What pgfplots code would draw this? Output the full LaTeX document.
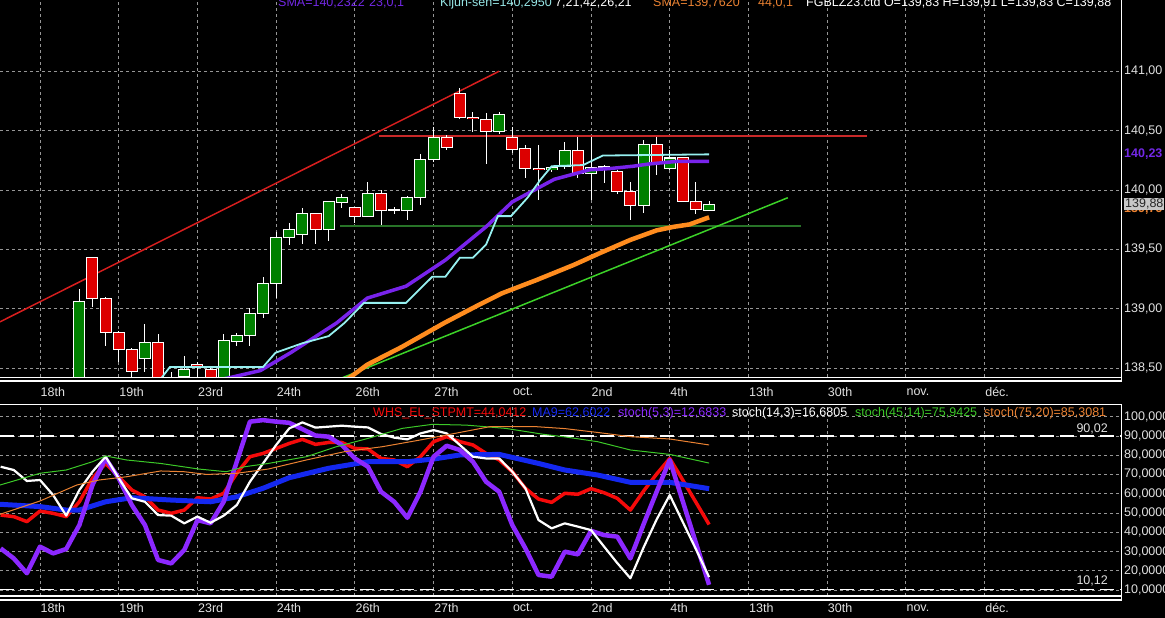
\documentclass[border=0pt]{standalone}
\usepackage{fontspec}
\setmainfont{Liberation Sans}
\usepackage{pgfplots}
\usepackage{pgfplotstable}
\pgfplotsset{compat=1.18}

\definecolor{cgreen}{RGB}{0,128,0}
\definecolor{cred}{RGB}{220,0,0}
\definecolor{gridc}{RGB}{150,150,150}
\definecolor{trendred}{RGB}{215,30,30}
\definecolor{hred}{RGB}{200,40,40}
\definecolor{dkgreen}{RGB}{40,115,40}
\definecolor{brgreen}{RGB}{60,210,40}
\definecolor{orangeL}{RGB}{255,140,30}
\definecolor{purpleL}{RGB}{120,35,235}
\definecolor{cyanL}{RGB}{150,240,240}
\definecolor{blueL}{RGB}{20,40,240}
\definecolor{redL}{RGB}{245,10,10}
\definecolor{violetL}{RGB}{140,40,255}
\definecolor{greenL}{RGB}{60,200,40}
\definecolor{orangeT}{RGB}{235,130,50}
\definecolor{labgrey}{RGB}{225,225,225}
\definecolor{purpT}{RGB}{115,40,230}
\definecolor{cyanT}{RGB}{150,230,230}
\definecolor{boxgrey}{RGB}{200,200,200}

% candles: x open high low close
\pgfplotstableread{
x O H L C
3 138.20 139.17 138.10 139.06
8 138.58 138.87 138.47 138.72
11 138.43 138.60 138.40 138.49
14 138.40 138.79 138.38 138.73
15 138.73 138.80 138.69 138.78
16 138.78 139.01 138.69 138.96
17 138.96 139.27 138.92 139.21
18 139.21 139.65 139.09 139.60
19 139.60 139.72 139.54 139.67
20 139.63 139.85 139.55 139.80
22 139.67 139.91 139.57 139.90
23 139.90 139.97 139.85 139.94
25 139.78 140.07 139.77 139.97
27 139.83 139.86 139.80 139.835
28 139.83 139.95 139.75 139.94
29 139.94 140.30 139.87 140.26
30 140.26 140.53 140.24 140.44
35 140.49 140.66 140.47 140.64
39 140.17 140.20 140.15 140.19
40 140.20 140.40 140.18 140.33
42 140.14 140.45 139.92 140.19
46 139.87 140.42 139.81 140.385
48 140.18 140.34 140.17 140.27
51 139.83 139.91 139.83 139.88
}\greenc

\pgfplotstableread{
x O H L C
4 139.43 139.44 139.02 139.09
5 139.09 139.10 138.69 138.80
6 138.80 138.81 138.55 138.66
7 138.66 138.67 138.43 138.47
9 138.72 138.79 138.30 138.38
10 138.40 138.47 138.25 138.30
12 138.53 138.55 138.38 138.51
13 138.49 138.50 138.38 138.40
21 139.80 139.81 139.55 139.67
24 139.85 139.86 139.72 139.78
26 139.97 140.00 139.71 139.83
31 140.44 140.46 140.34 140.36
32 140.81 140.86 140.60 140.61
33 140.61 140.66 140.49 140.60
34 140.59 140.65 140.22 140.49
36 140.44 140.53 140.31 140.34
37 140.35 140.38 140.10 140.18
38 140.18 140.38 139.92 140.17
41 140.33 140.45 140.10 140.14
43 140.20 140.21 140.06 140.195
44 140.16 140.17 139.97 139.99
45 139.99 140.07 139.75 139.87
47 140.385 140.45 140.13 140.23
49 140.27 140.28 139.90 139.90
50 139.90 140.07 139.80 139.84
}\redc

% oscillators: x stoch(5,3) WHS stoch(14,3)
\pgfplotstableread{
x P R W
-3 31.6 48.9 74.0
-2 26.4 48.1 72.3
-1 18.7 45.5 66.6
0 32.5 51.0 67.1
1 29.0 49.8 59.3
2 31.3 48.1 48.6
3 43.7 55.8 61.9
4 64.5 68.0 71.4
5 78.3 75.7 79.2
6 68.0 68.8 68.0
7 54.1 61.9 57.6
8 43.7 58.4 55.8
9 25.6 51.5 48.9
10 23.8 49.8 48.6
11 30.8 51.5 44.6
12 46.3 57.9 48.1
13 44.6 57.2 44.9
14 55.8 60.2 48.6
15 76.6 70.6 54.1
16 97.4 79.2 66.2
17 98.2 80.9 75.7
18 97.4 83.5 85.3
19 96.8 86.1 93.9
20 93.5 88.2 97.0
21 90.2 85.6 94.3
22 89.6 86.6 94.8
23 85.3 86.6 95.3
24 78.3 83.5 94.8
25 74.0 83.2 94.4
26 61.0 78.3 91.0
27 55.8 77.5 89.1
28 47.5 74.0 88.2
29 61.0 79.2 91.3
30 79.2 87.0 93.0
31 84.9 89.6 91.3
32 82.7 87.0 85.3
33 76.6 85.3 79.2
34 66.2 80.9 78.3
35 61.0 77.5 78.3
36 43.7 71.4 71.4
37 31.6 62.8 62.8
38 17.8 57.2 46.3
39 16.9 55.5 42.0
40 29.9 60.2 44.6
41 28.5 59.7 42.9
42 40.7 62.6 41.1
43 38.5 60.5 32.5
44 37.7 57.6 24.0
45 26.4 51.5 16.1
46 44.0 61.3 32.0
47 61.0 70.2 46.6
48 77.5 78.3 59.3
49 55.9 67.0 45.2
50 34.3 55.5 31.1
51 12.7 44.0 16.7
}\osc

\newcommand{\lbl}{\fontsize{12.5}{14}\selectfont}

\begin{document}
\begin{tikzpicture}[x=1pt,y=1pt]
\fill[black] (0,0) rectangle (1165,618);

% ---------------- price panel ----------------
\begin{axis}[
  at={(0pt,241pt)}, anchor=south west, scale only axis,
  width=1121pt, height=377pt,
  xmin=-3.049, xmax=82.393, ymin=138.4259, ymax=141.5993,
  axis line style={draw=none}, major tick length=0pt,
  xtick={0,6,...,72},
  xticklabels={18th,19th,23rd,24th,26th,27th,oct.,2nd,4th,13th,30th,nov.,déc.},
  ytick={138.5,139,139.5,140,140.5,141},
  yticklabels={{138,50},{139,00},{139,50},{140,00},{140,50},{141,00}},
  yticklabel pos=right,
  grid=major, grid style={gridc, dash pattern=on 3pt off 3pt, line width=0.8pt},
  tick label style={font=\lbl, text=labgrey},
  xticklabel style={anchor=west, inner sep=0.5pt, yshift=-15pt},
  yticklabel style={anchor=west, inner sep=0pt, xshift=3pt},
]
% trend and level lines
\addplot[trendred, line width=1.5pt] coordinates {(-3.05,138.89) (35,141.0)};
\addplot[hred, line width=2.4pt] coordinates {(25.85,140.455) (63,140.455)};
\addplot[dkgreen, line width=2pt] coordinates {(22.9,139.70) (58.0,139.70)};
\addplot[brgreen, line width=1.5pt] coordinates {(22.5,138.395) (57.0,139.935)};

% wicks
\addplot[draw=none, mark=none, error bars/.cd, y dir=both, y explicit, error mark=none,
  error bar style={draw=white, line width=1pt}]
  table[x=x, y expr={(\thisrow{H}+\thisrow{L})/2}, y error expr={(\thisrow{H}-\thisrow{L})/2}] {\greenc};
\addplot[draw=none, mark=none, error bars/.cd, y dir=both, y explicit, error mark=none,
  error bar style={draw=white, line width=1pt}]
  table[x=x, y expr={(\thisrow{H}+\thisrow{L})/2}, y error expr={(\thisrow{H}-\thisrow{L})/2}] {\redc};
% bodies: white outline then fill
\addplot[draw=none, mark=none, error bars/.cd, y dir=both, y explicit, error mark=none,
  error bar style={draw=white, line width=12pt}]
  table[x=x, y expr={(\thisrow{O}+\thisrow{C})/2}, y error expr={abs(\thisrow{C}-\thisrow{O})/2+0.0045}] {\greenc};
\addplot[draw=none, mark=none, error bars/.cd, y dir=both, y explicit, error mark=none,
  error bar style={draw=cgreen, line width=10pt}]
  table[x=x, y expr={(\thisrow{O}+\thisrow{C})/2}, y error expr={max(abs(\thisrow{C}-\thisrow{O})/2-0.0040,0)}] {\greenc};
\addplot[draw=none, mark=none, error bars/.cd, y dir=both, y explicit, error mark=none,
  error bar style={draw=white, line width=12pt}]
  table[x=x, y expr={(\thisrow{O}+\thisrow{C})/2}, y error expr={abs(\thisrow{C}-\thisrow{O})/2+0.0045}] {\redc};
\addplot[draw=none, mark=none, error bars/.cd, y dir=both, y explicit, error mark=none,
  error bar style={draw=cred, line width=10pt}]
  table[x=x, y expr={(\thisrow{O}+\thisrow{C})/2}, y error expr={max(abs(\thisrow{C}-\thisrow{O})/2-0.0040,0)}] {\redc};

% moving averages
\addplot[orangeL, line width=4.5pt, line join=round] coordinates {
(22.6,138.36) (23.6,138.42) (24.95,138.53) (27.6,138.68) (30.8,138.88) (33.4,139.03)
(35.2,139.13) (37.8,139.24) (40.7,139.37) (42.7,139.47) (45,139.58) (47,139.66)
(48.3,139.69) (49.5,139.71) (51,139.77)};
\addplot[purpleL, line width=3.5pt, line join=round] coordinates {
(13.5,138.40) (14.45,138.42) (16.8,138.48) (19.1,138.63) (22.6,138.88) (24.95,139.09)
(27.9,139.19) (30.9,139.41) (34.0,139.69) (36.0,139.90) (39.2,140.09) (41.9,140.17)
(43.4,140.18) (45.2,140.20) (46.5,140.22) (48.5,140.24) (51,140.24)};
\addplot[cyanL, line width=1.8pt] coordinates {
(9.0,138.39) (9.27,138.42) (9.9,138.51) (17.0,138.51) (17.95,138.63) (20,138.71)
(22,138.77) (23.2,138.88) (24.7,139.05) (27.9,139.05) (29.9,139.27) (30.9,139.27)
(32,139.43) (33,139.43) (34,139.54) (34.9,139.78) (35.9,139.78) (37.2,139.94)
(38.1,140.08) (39,140.20) (41.4,140.21) (42.9,140.29) (51,140.30)};
\end{axis}

% ---------------- oscillator panel ----------------
\begin{axis}[
  at={(0pt,22pt)}, anchor=south west, scale only axis,
  width=1121pt, height=192pt,
  xmin=-3.049, xmax=82.393, ymin=6.885, ymax=106.57,
  axis line style={draw=none}, major tick length=0pt,
  xtick={0,6,...,72},
  xticklabels={18th,19th,23rd,24th,26th,27th,oct.,2nd,4th,13th,30th,nov.,déc.},
  ytick={10,20,...,100},
  yticklabels={{10,0000},{20,0000},{30,0000},{40,0000},{50,0000},{60,0000},{70,0000},{80,0000},{90,0000},{100,0000}},
  yticklabel pos=right,
  grid=major, grid style={gridc, dash pattern=on 3pt off 3pt, line width=0.8pt},
  tick label style={font=\lbl, text=labgrey},
  xticklabel style={anchor=west, inner sep=0.5pt, yshift=-12pt},
  yticklabel style={anchor=west, inner sep=0pt, xshift=3pt},
]
\addplot[white, line width=1.3pt, dash pattern=on 14pt off 6pt] coordinates {(-3.05,90.02) (82.4,90.02)};
\addplot[white, line width=1.3pt, dash pattern=on 14pt off 6pt] coordinates {(-3.05,10.12) (82.4,10.12)};
\addplot[redL, line width=3.5pt, line join=round] table[x=x, y=R] {\osc};
\addplot[blueL, line width=5pt, line join=round] coordinates {
(-3.05,54.5) (0,53.3) (2,51.5) (3,51.5) (5,55.8) (7,57.9) (10,56.7) (13,55.8) (15,58.4)
(17,62.8) (19,68.3) (22,73.2) (25,76.6) (28,76.6) (30,78.0) (32,80.1) (35,80.4) (38,75.7)
(40,72.3) (42.5,69.7) (45,65.9) (48,65.9) (51,62.6)};
\addplot[violetL, line width=4.5pt, line join=round] table[x=x, y=P] {\osc};
\addplot[white, line width=2.2pt, line join=round] table[x=x, y=W] {\osc};
\addplot[greenL, line width=1pt] coordinates {
(-3.05,64.5) (0,70.6) (2,72.3) (4,76.6) (5,79.6) (6.6,77.5) (9.2,75.7) (12.1,72.8) (14.2,71.4)
(15.6,74.0) (17.4,75.7) (20.3,79.2) (22.6,84.4) (25,88.7) (27.6,93.9) (29.9,96.0) (32.5,95.6)
(35.5,93.9) (38.4,90.8) (40,89.5) (42.5,87.0) (45,82.7) (48,80.4) (51,75.9)};
\addplot[orangeT, line width=1pt] coordinates {
(-3.05,49.3) (0,56.2) (2.8,64.5) (4.5,67.1) (6.6,68.8) (9.2,71.8) (11,71.4) (12.7,70.0)
(15,70.6) (17.4,72.8) (20.3,77.5) (23.2,81.8) (26.1,84.4) (29,87.9) (32,91.8) (34.3,94.8)
(37.8,94.8) (40,93.8) (42.5,91.8) (45,89.6) (48,88.4) (51,85.3)};
\end{axis}

% ---------------- frames ----------------
\draw[white, line width=1.2pt] (1121.5,618) -- (1121.5,237);
\draw[white, line width=1.2pt] (0,240.5) -- (1122,240.5);
\draw[white, line width=1.2pt] (0,237) -- (1122,237);
\draw[white, line width=1.2pt] (0,213.5) -- (1122,213.5);
\draw[white, line width=1.2pt] (1121.5,213.5) -- (1121.5,18);
\draw[white, line width=1.2pt] (0,22) -- (1122,22);
\draw[white, line width=1.2pt] (0,18) -- (1122,18);

% ---------------- header texts ----------------
\begin{scope}[every node/.style={inner sep=0pt, anchor=base west, font=\lbl}]
\node[text=purpT] at (278,611) {SMA=140,2322};
\node[text=purpT] at (369,611) {23,0,1};
\node[text=cyanT] at (440,611) {Kijun-sen=140,2950};
\node[text=white] at (555,611) {7,21,42,26,21};
\node[text=orangeT] at (653,611) {SMA=139,7620};
\node[text=orangeT] at (758,611) {44,0,1};
\node[text=white] at (806,611) {FGBLZ23.ctd O=139,83 H=139,91 L=139,83 C=139,88};

\node[text=redL] at (373,201.5) {WHS\_EL\_STPMT=44,0412};
\node[text=blueL] at (532,201.5) {MA9=62,6022};
\node[text=violetL] at (618,201.5) {stoch(5,3)=12,6833};
\node[text=white] at (732,201.5) {stoch(14,3)=16,6805};
\node[text=greenL] at (855,201.5) {stoch(45,14)=75,9425};
\node[text=orangeT] at (984,201.5) {stoch(75,20)=85,3081};

\node[text=labgrey, anchor=base east] at (1108,185) {90,02};
\node[text=labgrey, anchor=base east] at (1108,33) {10,12};

\node[text=purpT, font=\lbl\bfseries] at (1124,460.5) {140,23};
\node[text=orangeT, font=\lbl\bfseries] at (1124,405.5) {139,76};
\node[fill=boxgrey, text=black!85, inner sep=1pt] at (1124,410.5) {139,88};
\end{scope}

\pgfresetboundingbox
\path[use as bounding box] (0,0) rectangle (1165,618);
\end{tikzpicture}
\end{document}
